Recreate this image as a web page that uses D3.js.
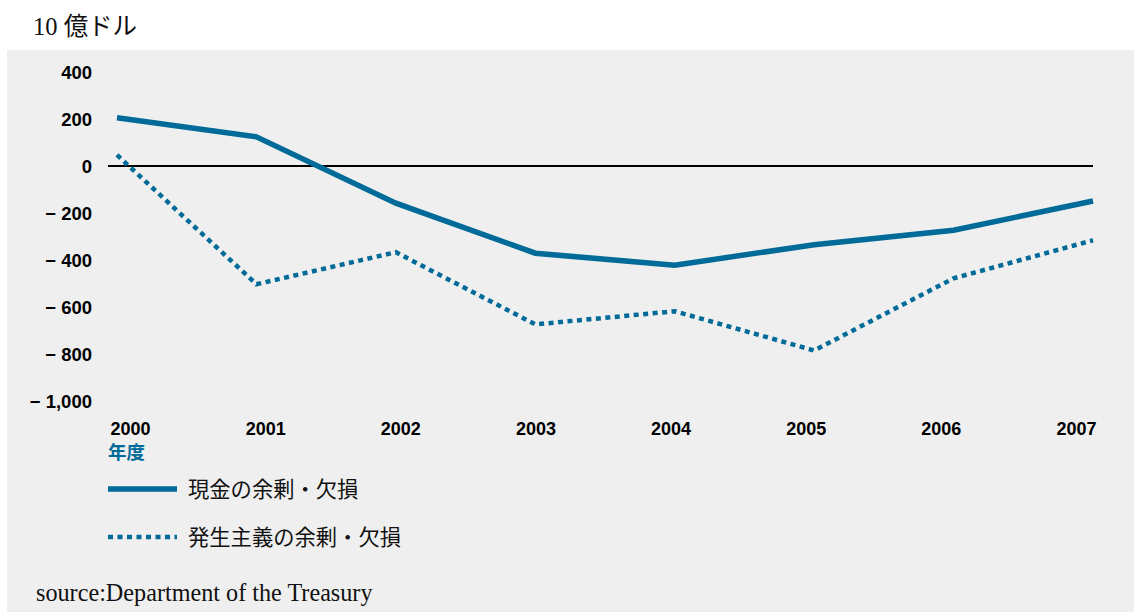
<!DOCTYPE html>
<html><head><meta charset="utf-8">
<script src="https://cdn.jsdelivr.net/npm/d3@7"></script>
<style>
html,body{margin:0;padding:0;background:#fff;}
svg{display:block;}
.tick text{font-family:"Liberation Sans",Arial,sans-serif;font-weight:bold;}
</style></head>
<body>
<script>
const years = [2000, 2001, 2002, 2003, 2004, 2005, 2006, 2007];
const cashBalance = [205, 124, -158, -371, -422, -335, -273, -149];
const accrualBalance = [47, -503, -367, -674, -618, -785, -478, -316];
const yTicks = [400, 200, 0, -200, -400, -600, -800, -1000];
const seriesNames = ["現金の余剰・欠損", "発生主義の余剰・欠損"];
const unitLabel = "10 億ドル";
const xAxisName = "年度";
const sourceText = "source:Department of the Treasury";

const W = 1134, H = 612;
const blue = "#006a98";
const serif = "'Liberation Serif','DejaVu Serif','Noto Sans CJK JP',serif";

const svg = d3.select("body").append("svg").attr("width", W).attr("height", H);

svg.append("rect").attr("x", 7).attr("y", 50).attr("width", W - 7).attr("height", H - 50).attr("fill", "#efefef");

svg.append("text").attr("x", 33).attr("y", 35).attr("font-family", serif).attr("font-size", 24.5).attr("fill", "#111").text(unitLabel);

const x = d3.scaleLinear().domain([2000, 2007]).range([117, 1093]);
const xLab = d3.scaleLinear().domain([2000, 2007]).range([130, 1076]);
const y = d3.scaleLinear().domain([-1000, 400]).range([401, 72]);

// y axis
const yAxis = svg.append("g").attr("transform", "translate(92,0)")
  .call(d3.axisLeft(y).tickValues(yTicks).tickSize(0).tickPadding(0)
    .tickFormat(d => d < 0 ? "\u2212 " + d3.format(",")(-d) : d3.format(",")(d)));
yAxis.select(".domain").remove();
yAxis.selectAll("text").attr("font-size", 18.5).attr("fill", "#000").attr("dy", "0.35em")
  .style("white-space", "pre");

// x axis labels
const xAxis = svg.append("g").attr("transform", "translate(0,422)")
  .call(d3.axisBottom(xLab).tickValues(years).tickSize(0).tickPadding(0).tickFormat(d3.format("d")));
xAxis.select(".domain").remove();
xAxis.selectAll("text").attr("font-size", 18).attr("fill", "#000").attr("dy", "0.71em");

svg.append("text").attr("x", 108).attr("y", 459).attr("font-family", "'Noto Sans CJK JP',sans-serif")
  .attr("font-weight", "bold").attr("font-size", 18.5).attr("fill", blue).text(xAxisName);

// zero line
svg.append("line").attr("x1", 108).attr("x2", 1093).attr("y1", y(0)).attr("y2", y(0))
  .attr("stroke", "#000").attr("stroke-width", 2);

const line = d3.line().x((d, i) => x(years[i])).y(d => y(d));

svg.append("path").datum(accrualBalance).attr("d", line).attr("fill", "none")
  .attr("stroke", blue).attr("stroke-width", 4.5).attr("stroke-dasharray", "5,4.5");
svg.append("path").datum(cashBalance).attr("d", line).attr("fill", "none")
  .attr("stroke", blue).attr("stroke-width", 5.5);

// legend
const leg = [{y: 489, dash: null, w: 5.5}, {y: 537, dash: "5,4.5", w: 4.5}];
leg.forEach((l, i) => {
  const ln = svg.append("line").attr("x1", 108).attr("x2", 177).attr("y1", l.y).attr("y2", l.y)
    .attr("stroke", blue).attr("stroke-width", l.w);
  if (l.dash) ln.attr("stroke-dasharray", l.dash);
  svg.append("text").attr("x", 188).attr("y", l.y).attr("dy", "0.36em").attr("font-family", serif)
    .attr("font-size", 21.3).attr("fill", "#111").text(seriesNames[i]);
});

svg.append("text").attr("x", 36).attr("y", 601).attr("font-family", serif).attr("font-size", 24.2)
  .attr("fill", "#111").text(sourceText);
</script>
</body></html>
